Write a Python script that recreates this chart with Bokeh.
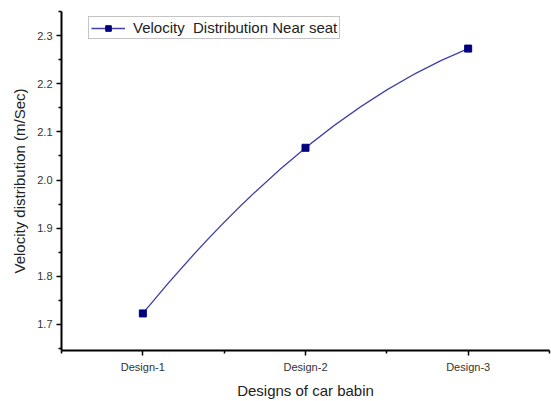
from bokeh.plotting import figure
from bokeh.models import FixedTicker, Legend, LegendItem, ColumnDataSource
from bokeh.embed import file_html
from bokeh.resources import INLINE

# Data
designs = ["Design-1", "Design-2", "Design-3"]
x_pos = [1, 2, 3]
velocity = [1.723, 2.067, 2.273]
y_ticks = [1.7, 1.8, 1.9, 2.0, 2.1, 2.2, 2.3]

line_color = "#4040aa"
marker_color = "#00007f"
font = "Liberation Sans"

p = figure(width=551, height=401, output_backend="svg", toolbar_location=None,
           x_range=(0.5, 3.5), y_range=(1.646, 2.35),
           min_border_left=61, min_border_right=2, min_border_top=11, min_border_bottom=49)
p.outline_line_color = None
p.xgrid.visible = False
p.ygrid.visible = False
p.background_fill_color = "white"
p.border_fill_color = "white"

# Smooth curve through the three points: quadratic Bezier whose midpoint is Design-2
cx = x_pos[1]
cy = (velocity[1] - 0.25 * velocity[0] - 0.25 * velocity[2]) / 0.5
curve = p.quadratic(x0=[x_pos[0]], y0=[velocity[0]], x1=[x_pos[2]], y1=[velocity[2]],
                    cx=[cx], cy=[cy], line_color=line_color, line_width=1.3)

src = ColumnDataSource(dict(x=x_pos, y=velocity))
pts = p.scatter("x", "y", source=src, marker="square", size=7,
                fill_color=marker_color, line_color=marker_color)

legend = Legend(items=[LegendItem(label="Velocity  Distribution Near seat",
                                  renderers=[curve, pts])],
                location=(27, 311), orientation="vertical",
                border_line_color="#8a8a8a", border_line_width=1,
                background_fill_alpha=1, padding=2, spacing=0,
                glyph_width=34, glyph_height=14, label_standoff=8,
                label_text_font=font, label_text_font_size="15px",
                label_text_color="#222222", margin=0)
p.add_layout(legend)

# X axis
p.xaxis.ticker = FixedTicker(ticks=x_pos, minor_ticks=[0.5, 1.5, 2.5, 3.5])
p.xaxis.major_label_overrides = {x: d for x, d in zip(x_pos, designs)}
p.xaxis.axis_label = "Designs of car babin"
# Y axis
p.yaxis.ticker = FixedTicker(ticks=y_ticks,
                             minor_ticks=[1.65, 1.75, 1.85, 1.95, 2.05, 2.15, 2.25, 2.35])
p.yaxis.major_label_overrides = {t: f"{t:.1f}" for t in y_ticks}
p.yaxis.axis_label = "Velocity distribution (m/Sec)"

for ax in (p.xaxis[0], p.yaxis[0]):
    ax.axis_line_color = "black"
    ax.axis_line_width = 2
    ax.major_tick_line_color = "black"
    ax.major_tick_line_width = 1.5
    ax.minor_tick_line_color = "black"
    ax.minor_tick_line_width = 1.5
    ax.major_tick_out = 5
    ax.major_tick_in = 0
    ax.minor_tick_out = 3
    ax.minor_tick_in = 0
    ax.major_label_text_font = font
    ax.major_label_text_font_size = "11px"
    ax.major_label_text_color = "#333333"
    ax.axis_label_text_font = font
    ax.axis_label_text_font_size = "15px"
    ax.axis_label_text_font_style = "normal"
    ax.axis_label_text_color = "#222222"

p.xaxis.major_label_standoff = 5
p.xaxis.axis_label_standoff = 6
p.yaxis.major_label_standoff = 4
p.yaxis.axis_label_standoff = 6

open("out.html", "w").write(file_html(p, INLINE))
